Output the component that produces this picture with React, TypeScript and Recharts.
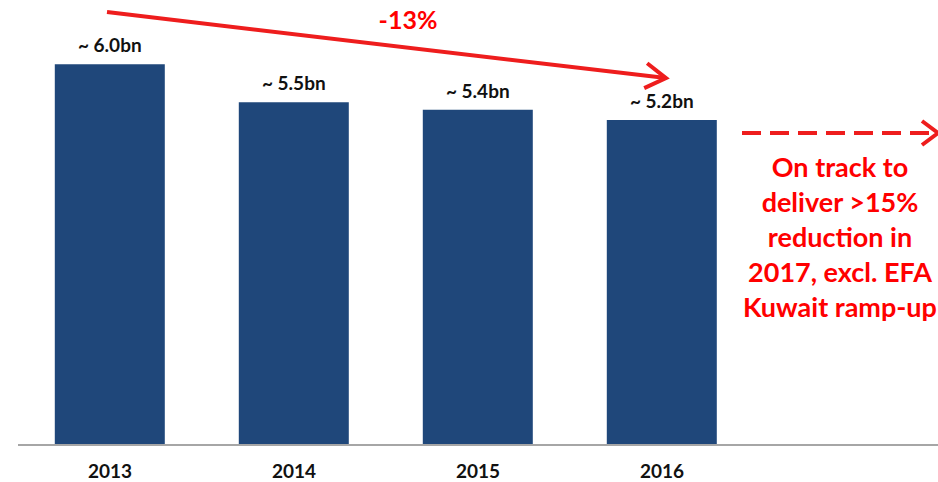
import React from "react";
import { BarChart, Bar, XAxis, YAxis, LabelList, ReferenceLine } from "recharts";

const years = ["2013", "2014", "2015", "2016", ""];
const values: (number | null)[] = [6.0, 5.4, 5.28, 5.12, null];
const valueLabels = ["~ 6.0bn", "~ 5.5bn", "~ 5.4bn", "~ 5.2bn", ""];
const changeLabel = "-13%";
const noteLines = ["On track to", "deliver >15%", "reduction in", "2017, excl. EFA", "Kuwait ramp-up"];

const data = years.map((y, i) => ({ year: y, value: values[i], label: valueLabels[i] }));

const FONT = "Lato, 'Open Sans', sans-serif";
const RED = "#EE1D1D";
const TEXT_RED = "#FF0000";

const ArrowShape = (props: any) => {
  const { x1, y1, x2, y2 } = props;
  const ex = x2 + 4;
  const ang = Math.atan2(y2 - y1, ex - x1);
  const len = 24;
  const spread = 0.55;
  const ax = ex - len * Math.cos(ang - spread);
  const ay = y2 - len * Math.sin(ang - spread);
  const bx = ex - len * Math.cos(ang + spread);
  const by = y2 - len * Math.sin(ang + spread);
  return (
    <g>
      <line x1={x1 - 3} y1={y1} x2={ex} y2={y2} stroke={RED} strokeWidth={4} />
      <polyline points={`${ax},${ay} ${ex},${y2} ${bx},${by}`} fill="none" stroke={RED} strokeWidth={4} strokeLinejoin="miter" />
    </g>
  );
};

export default function App() {
  return (
    <div style={{ position: "absolute", left: 0, top: 0, width: 938, height: 482, background: "#fff" }}>
      <BarChart
        width={938}
        height={482}
        data={data}
        margin={{ top: 7, right: 0, bottom: 7, left: 18 }}
        barCategoryGap="20%"
      >
        <XAxis
          dataKey="year"
          height={30}
          tickLine={false}
          axisLine={{ stroke: "#A6A6A6", strokeWidth: 2 }}
          tickMargin={14}
          tick={{ fill: "#111", fontSize: 19, fontWeight: 700, fontFamily: FONT }}
          interval={0}
        />
        <YAxis
          width={0}
          domain={[0, 6.9]}
          tick={false}
          tickLine={false}
          axisLine={{ stroke: "#A6A6A6", strokeWidth: 2 }}
        />
        <Bar dataKey="value" fill="#1F477A" isAnimationActive={false}>
          <LabelList
            dataKey="label"
            position="top"
            offset={12}
            style={{ fill: "#111", fontSize: 19, fontWeight: 700, fontFamily: FONT }}
          />
        </Bar>
        <ReferenceLine
          segment={[{ x: "2013", y: 6.82 }, { x: "2016", y: 5.78 }]}
          shape={ArrowShape}
          ifOverflow="extendDomain"
        />
      </BarChart>
      <svg width={938} height={482} style={{ position: "absolute", left: 0, top: 0, pointerEvents: "none" }}>
        <text x={408} y={29} textAnchor="middle" fill={TEXT_RED} fontSize={25} fontWeight={700} fontFamily={FONT}>
          {changeLabel}
        </text>
        <line x1={742} y1={133} x2={934} y2={133} stroke={RED} strokeWidth={4} strokeDasharray="19 9" />
        <polyline points="922,121 938,133 922,145" fill="none" stroke={RED} strokeWidth={4} />
        {noteLines.map((t, i) => (
          <text
            key={i}
            x={840}
            y={177 + i * 35}
            textAnchor="middle"
            fill={TEXT_RED}
            fontSize={27}
            fontWeight={700}
            fontFamily={FONT}
          >
            {t}
          </text>
        ))}
      </svg>
    </div>
  );
}
